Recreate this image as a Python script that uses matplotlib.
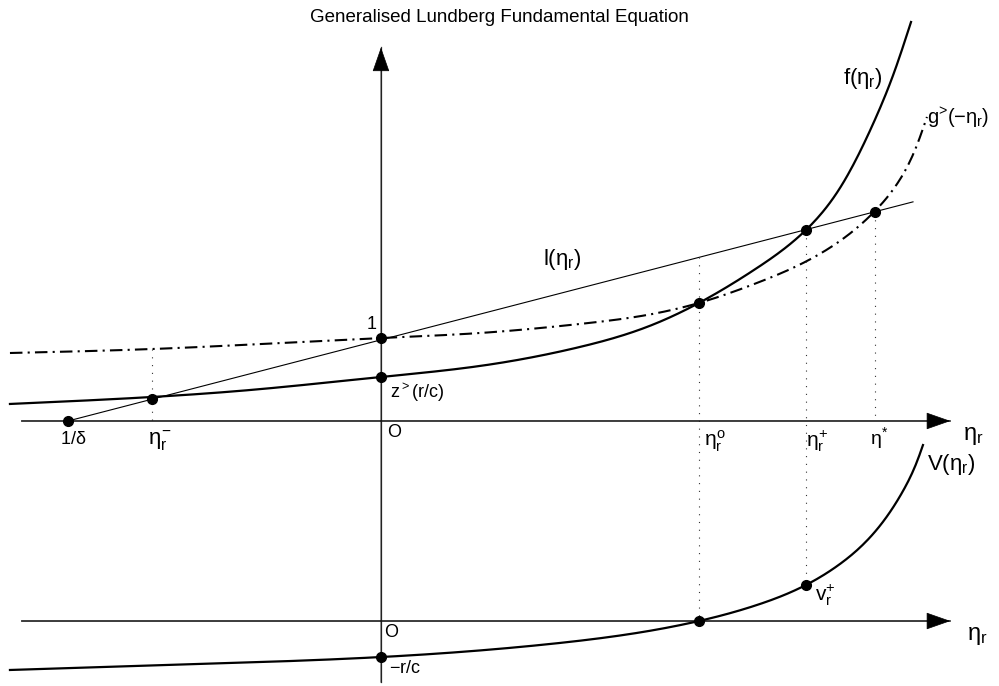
import matplotlib
matplotlib.use('Agg')
import matplotlib.pyplot as plt
import numpy as np

plt.rcParams['font.family'] = ['Liberation Sans', 'DejaVu Sans']
plt.rcParams['mathtext.fontset'] = 'custom'
plt.rcParams['mathtext.rm'] = 'Liberation Sans'
plt.rcParams['mathtext.it'] = 'Liberation Sans'
plt.rcParams['mathtext.bf'] = 'Liberation Sans:bold'

# Curve samples (eta_r, value)
f_eta = [-4.470, -2.759, -1.578, 0.0, 1.193, 2.398, 3.205, 3.831, 4.530, 5.120, 5.530, 5.928, 6.193, 6.386]
f_val = [0.205, 0.289, 0.373, 0.530, 0.663, 0.892, 1.133, 1.422, 1.843, 2.301, 2.807, 3.578, 4.229, 4.807]

g_eta = [-4.470, -2.759, 0.0, 1.193, 2.398, 3.205, 3.831, 4.530, 5.133, 5.530, 5.952, 6.217, 6.458, 6.578]
g_val = [0.819, 0.867, 1.0, 1.060, 1.169, 1.277, 1.422, 1.663, 1.928, 2.169, 2.530, 2.855, 3.325, 3.663]

l_eta = [-3.77, 6.41]
l_val = [0.0, 2.64]

V_eta = [-4.470, -2.181, 0.0, 2.036, 3.831, 4.530, 5.120, 5.530, 5.928, 6.289, 6.470, 6.530]
V_val = [-0.590, -0.518, -0.434, -0.277, 0.0, 0.193, 0.434, 0.687, 1.048, 1.566, 1.952, 2.120]

# special points on the upper panel
eta_inv_delta = -3.77
eta_minus = -2.76
eta_o = 3.83
eta_plus = 5.12
eta_star = 5.95
z_rc = 0.53
v_plus = 0.434
r_c = -0.434

LOWER = -2.41  # vertical position of the lower panel's axis


def smooth(x, y, n=500):
    # natural cubic spline through the read points, only for drawing
    x = np.asarray(x, float)
    y = np.asarray(y, float)
    k = len(x)
    h = np.diff(x)
    A = np.zeros((k, k))
    b = np.zeros(k)
    A[0, 0] = A[-1, -1] = 1
    for i in range(1, k - 1):
        A[i, i - 1] = h[i - 1]
        A[i, i] = 2 * (h[i - 1] + h[i])
        A[i, i + 1] = h[i]
        b[i] = 6 * ((y[i + 1] - y[i]) / h[i] - (y[i] - y[i - 1]) / h[i - 1])
    M = np.linalg.solve(A, b)
    xs = np.linspace(x[0], x[-1], n)
    j = np.clip(np.searchsorted(x, xs) - 1, 0, k - 2)
    a = x[j + 1] - xs
    c = xs - x[j]
    hj = h[j]
    ys = (M[j] * a**3 + M[j + 1] * c**3) / (6 * hj) \
        + (y[j] / hj - M[j] * hj / 6) * a + (y[j + 1] / hj - M[j + 1] * hj / 6) * c
    return xs, ys


def axis_arrow(ax, start, tip, color, lw):
    ax.plot([start[0], tip[0]], [start[1], tip[1]], color=color, lw=lw)
    ax.annotate('', xy=tip, xytext=start,
                arrowprops=dict(arrowstyle='-|>,head_length=0.8,head_width=0.28',
                                mutation_scale=20, lw=0.5, color='black',
                                shrinkA=0, shrinkB=0))


fig = plt.figure(figsize=(9.99, 6.86), dpi=100)
ax = fig.add_axes([0, 0, 1, 1])
ax.set_xlim(-4.59, 7.446)
ax.set_ylim(-3.193, 5.072)
ax.axis('off')

# axes
axis_arrow(ax, (-4.33, 0), (6.86, 0), '#606060', 1.4)
axis_arrow(ax, (-4.33, LOWER), (6.86, LOWER), '#606060', 1.4)
axis_arrow(ax, (0, -3.15), (0, 4.50), '#333333', 0.9)

# curves
ax.plot(*smooth(f_eta, f_val), color='black', lw=1.6)
ax.plot(*smooth(g_eta, g_val), color='black', lw=1.5, linestyle=(0, (6, 2.5, 1, 2.5)))
ax.plot(l_eta, l_val, color='black', lw=0.8)
vx, vy = smooth(V_eta, V_val)
ax.plot(vx, vy + LOWER, color='black', lw=1.6)

# dotted guides
l_at = lambda e: np.interp(e, l_eta, l_val)
g_at = lambda e: np.interp(e, g_eta, g_val)
dot = dict(color='#333333', lw=0.8, linestyle=(0, (1, 6)))
ax.plot([eta_minus, eta_minus], [g_at(eta_minus), 0], **dot)
ax.plot([eta_o, eta_o], [l_at(eta_o), LOWER], **dot)
ax.plot([eta_plus, eta_plus], [l_at(eta_plus), LOWER + v_plus], **dot)
ax.plot([eta_star, eta_star], [l_at(eta_star), 0], **dot)

# marked points
px = [eta_inv_delta, eta_minus, 0, 0, eta_o, eta_plus, eta_star, 0, eta_o, eta_plus]
py = [0, l_at(eta_minus), 1.0, z_rc, np.interp(eta_o, f_eta, f_val), l_at(eta_plus),
      l_at(eta_star), LOWER + r_c, LOWER, LOWER + v_plus]
ax.plot(px, py, 'o', color='black', markersize=7)

fs = 13
ax.text(-0.05, 1.16, '1', fontsize=fs, ha='right', va='center')
ax.text(0.11, 0.34, r'z$^{>}$(r/c)', fontsize=fs, ha='left', va='center')
ax.text(0.07, -0.14, 'O', fontsize=fs, ha='left', va='center')
ax.text(-3.71, -0.22, r'1/$\delta$', fontsize=fs, ha='center', va='center')
ax.text(-2.67, -0.24, r'$\eta_r^{-}$', fontsize=16, ha='center', va='center')
ax.text(4.02, -0.24, r'$\eta_r^{o}$', fontsize=15, ha='center', va='center')
ax.text(5.26, -0.24, r'$\eta_r^{+}$', fontsize=15, ha='center', va='center')
ax.text(6.01, -0.21, r'$\eta^{*}$', fontsize=14, ha='center', va='center')
ax.text(7.14, -0.18, r'$\eta_r$', fontsize=17, ha='center', va='center')
ax.text(2.18, 1.94, r'l($\eta_r$)', fontsize=16, ha='center', va='center')
ax.text(5.80, 4.13, r'f($\eta_r$)', fontsize=16, ha='center', va='center')
ax.text(6.58, 3.66, r'$\mathrm{g}^{\!>}\!(-\eta_r)$', fontsize=14.5, ha='left', va='center')
ax.text(6.58, -0.53, r'V($\eta_r$)', fontsize=16, ha='left', va='center')
ax.text(5.23, -2.10, r'v$_r^{+}$', fontsize=15, ha='left', va='center')
ax.text(0.04, -2.55, 'O', fontsize=fs, ha='left', va='center')
ax.text(0.10, -2.98, r'$-$r/c', fontsize=fs, ha='left', va='center')
ax.text(7.18, -2.59, r'$\eta_r$', fontsize=17, ha='center', va='center')

fig.text(0.5, 1 - 17 / 686, 'Generalised Lundberg Fundamental Equation',
         fontsize=13.5, ha='center', va='center')

fig.savefig('out.png', dpi=100)
